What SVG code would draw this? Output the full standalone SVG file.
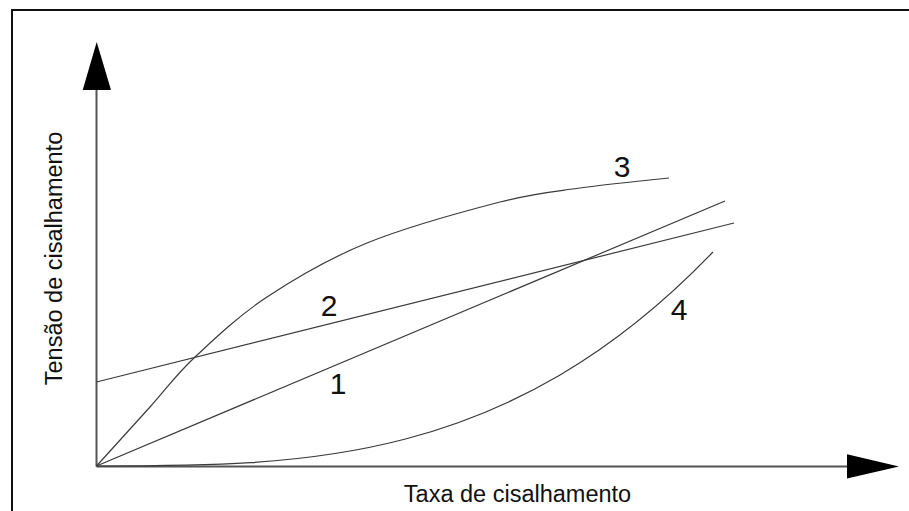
<svg xmlns="http://www.w3.org/2000/svg" width="909" height="511" viewBox="0 0 909 511">
  <style>
    .frame { fill: none; stroke: #111; stroke-width: 2; }
    .axis { fill: none; stroke: #555; stroke-width: 2; }
    .head { fill: #000; stroke: none; }
    .curve { fill: none; stroke: #3a3a3a; stroke-width: 1.2; }
    .lbl { font-family: "Liberation Sans", Arial, sans-serif; fill: #111; }
    .num { font-size: 30px; text-anchor: middle; }
    .ax { font-size: 23.5px; text-anchor: middle; }
  </style>
  <rect width="909" height="511" fill="#fff"/>
  <path class="frame" d="M12,511 V10 H909"/>
  <g id="axes">
    <line class="axis" x1="96.5" y1="466.5" x2="96.5" y2="90"/>
    <polygon class="head" points="96.7,42 111,90 82.7,90"/>
    <line class="axis" x1="96.5" y1="466.5" x2="848" y2="466.5"/>
    <polygon class="head" points="847,454.3 899,466.6 847,478.5"/>
  </g>
  <g id="connectors">
    <path id="curve1" class="curve" d="M96.5,466 L725,201"/>
    <path id="curve2" class="curve" d="M96.5,382 L734,223"/>
    <path id="curve3" class="curve" d="M96.5,466 C105.4,456.2 133.6,425.2 150,407 C166.4,388.8 175.5,375.3 195,357 C214.5,338.7 238.3,316 267,297 C295.7,278 328.2,258.8 367,243 C405.8,227.2 464.5,211.2 500,202 C535.5,192.8 551.8,192 580,188 C608.2,184 654.2,179.7 669,178"/>
    <path id="curve4" class="curve" d="M96.5,466 C301.7,466 507.3,466 713,252"/>
  </g>
  <g id="labels">
    <text class="lbl num" x="622" y="177">3</text>
    <text class="lbl num" x="329" y="316">2</text>
    <text class="lbl num" x="338" y="394">1</text>
    <text class="lbl num" x="679" y="320">4</text>
    <text class="lbl ax" x="517.5" y="502">Taxa de cisalhamento</text>
    <text class="lbl ax" transform="translate(62,258.5) rotate(-90)">Tensão de cisalhamento</text>
  </g>
</svg>
